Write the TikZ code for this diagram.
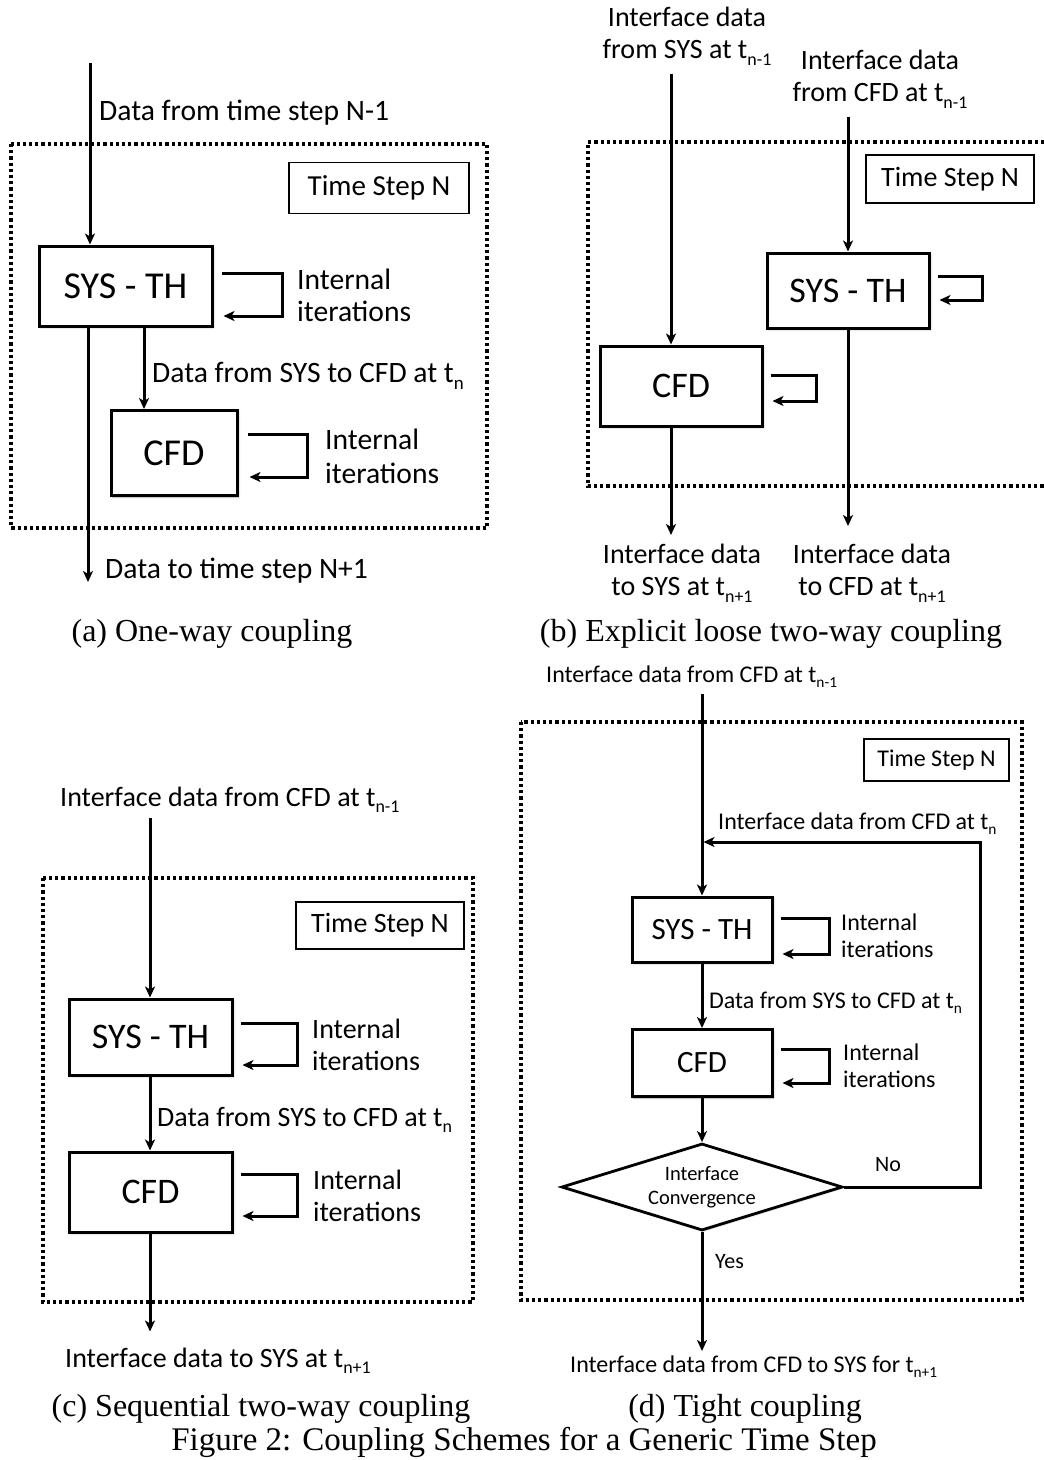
\documentclass[tikz,border=0pt]{standalone}
\usepackage{fontspec}
\setmainfont{Carlito}
\newfontfamily\capfont{Liberation Serif}
\usetikzlibrary{arrows.meta,shapes.geometric,shadows.blur}
\newcommand\fs[2]{\fontsize{#1}{#2}\selectfont}
% lowered, reduced index such as the n-1 in t_{n-1}
\newcommand\lowidx[1]{\raisebox{-0.24em}{\scalebox{0.64}{#1}}}

\begin{document}
\begin{tikzpicture}[x=1pt,y=-1pt,
  conn/.style={line width=3pt,-{Stealth[length=11pt,width=10pt,inset=3pt]}},
  block/.style={draw,line width=3pt,fill=white,inner sep=0pt,
    blur shadow={shadow xshift=1.5pt,shadow yshift=-1.5pt,shadow blur radius=2pt,shadow opacity=35}},
  tsbox/.style={draw,line width=1.5pt,inner sep=0pt},
  frame/.style={line width=3.2pt,dash pattern=on 3.2pt off 3pt},
  txt/.style={inner sep=0pt},
  captext/.style={font=\capfont\fs{32}{36},inner sep=0pt},
]
\useasboundingbox (0,0) rectangle (1044,1460);

% ---------------- (a) one-way coupling ----------------
\draw[frame] (11,144) rectangle (487,528);
\node[tsbox,minimum width=180pt,minimum height=51pt,font=\fs{29}{32}] (a-ts) at (379,188) {Time Step N};
\node[block,minimum width=173pt,minimum height=80pt,font=\fs{38}{40}] (a-sys) at (125.5,286) {SYS - TH};
\node[block,minimum width=126pt,minimum height=85pt,font=\fs{38}{40}] (a-cfd) at (174,453) {CFD};
\coordinate (a-in) at (90,63);
\coordinate (a-out) at (88,582);
\draw[conn] (a-in) -- (a-in |- a-sys.north);
\draw[conn] (a-out |- a-sys.south) -- (a-out);
\draw[conn] ([xshift=-30pt]a-cfd.north |- a-sys.south) -- ([xshift=-30pt]a-cfd.north);
\draw[conn] ([xshift=8pt,yshift=13pt]a-sys.east) -- ++(61,0) -- ++(0,43) -- ++(-59,0);
\draw[conn] ([xshift=9pt,yshift=19pt]a-cfd.east) -- ++(60,0) -- ++(0,43) -- ++(-58,0);
\node[txt,anchor=base west,font=\fs{29.6}{32}] (a-lblin) at (99,120) {Data from time step N-1};
\node[txt,anchor=base west,font=\fs{29.6}{32}] (a-lblmid) at (152,382) {Data from SYS to CFD at t\lowidx{n}};
\node[txt,anchor=base west,font=\fs{29.6}{32}] (a-lblout) at (105,578) {Data to time step N+1};
\node[txt,anchor=west,align=left,font=\fs{29.6}{32}] (a-itsys) at (297,295) {Internal\\iterations};
\node[txt,anchor=west,align=left,font=\fs{29.6}{34}] (a-itcfd) at (325,456) {Internal\\iterations};
\node[captext] (a-cap) at (212,634) {(a) One-way coupling};

% ---------------- (b) explicit loose two-way coupling ----------------
\draw[frame] (1044,142) -- (588,142) -- (588,486) -- (1044,486);
\node[tsbox,minimum width=168pt,minimum height=48pt,font=\fs{28}{30}] (b-ts) at (950,179) {Time Step N};
\node[block,minimum width=162pt,minimum height=75pt,font=\fs{36}{38}] (b-sys) at (848,290.5) {SYS - TH};
\node[block,minimum width=162pt,minimum height=80pt,font=\fs{36}{38}] (b-cfd) at (681,386) {CFD};
\node[txt,align=center,font=\fs{28}{32}] (b-lblsys) at (687,36) {Interface data\\from SYS at t\lowidx{n-1}};
\node[txt,align=center,font=\fs{28}{32}] (b-lblcfd) at (880,79) {Interface data\\from CFD at t\lowidx{n-1}};
\coordinate (b-in1) at (671,74);
\coordinate (b-in2) at (848,116.5);
\coordinate (b-out1) at (671,535);
\coordinate (b-out2) at (848,526);
\draw[conn] (b-in1) -- (b-in1 |- b-cfd.north);
\draw[conn] (b-in2) -- (b-sys.north);
\draw[conn] (b-out1 |- b-cfd.south) -- (b-out1);
\draw[conn] (b-sys.south) -- (b-out2);
\draw[conn] ([xshift=7pt,yshift=14.5pt]b-sys.east) -- ++(45,0) -- ++(0,24) -- ++(-43,0);
\draw[conn] ([xshift=7pt,yshift=11pt]b-cfd.east) -- ++(46,0) -- ++(0,26) -- ++(-44,0);
\node[txt,align=center,font=\fs{28}{32}] (b-lblout1) at (682,573) {Interface data\\to SYS at t\lowidx{n+1}};
\node[txt,align=center,font=\fs{28}{32}] (b-lblout2) at (872,573) {Interface data\\to CFD at t\lowidx{n+1}};
\node[captext] (b-cap) at (771,634) {(b) Explicit loose two-way coupling};

% ---------------- (c) sequential two-way coupling ----------------
\draw[frame] (43,878) rectangle (473,1302);
\node[tsbox,minimum width=168pt,minimum height=47pt,font=\fs{28}{30}] (c-ts) at (380,925.5) {Time Step N};
\node[block,minimum width=163pt,minimum height=76pt,font=\fs{36}{38}] (c-sys) at (150.5,1037) {SYS - TH};
\node[block,minimum width=163pt,minimum height=80pt,font=\fs{36}{38}] (c-cfd) at (150.5,1192) {CFD};
\coordinate (c-in) at (150,818);
\coordinate (c-out) at (150,1331.5);
\draw[conn] (c-in) -- (c-in |- c-sys.north);
\draw[conn] (c-in |- c-sys.south) -- (c-in |- c-cfd.north);
\draw[conn] (c-out |- c-cfd.south) -- (c-out);
\draw[conn] ([xshift=7pt,yshift=14pt]c-sys.east) -- ++(57,0) -- ++(0,42) -- ++(-55,0);
\draw[conn] ([xshift=7pt,yshift=18pt]c-cfd.east) -- ++(57,0) -- ++(0,42) -- ++(-55,0);
\node[txt,anchor=base west,font=\fs{28}{32}] (c-lblin) at (60,806) {Interface data from CFD at t\lowidx{n-1}};
\node[txt,anchor=base west,font=\fs{28}{32}] (c-lblmid) at (157,1126) {Data from SYS to CFD at t\lowidx{n}};
\node[txt,anchor=base west,font=\fs{28}{32}] (c-lblout) at (65,1367) {Interface data to SYS at t\lowidx{n+1}};
\node[txt,anchor=west,align=left,font=\fs{28}{32}] (c-itsys) at (312,1045) {Internal\\iterations};
\node[txt,anchor=west,align=left,font=\fs{28}{32}] (c-itcfd) at (313,1196) {Internal\\iterations};
\node[captext] (c-cap) at (261,1409) {(c) Sequential two-way coupling};

% ---------------- (d) tight coupling ----------------
\draw[frame] (521,722) rectangle (1022,1300);
\node[tsbox,minimum width=145pt,minimum height=42pt,font=\fs{24}{28}] (d-ts) at (936.5,760) {Time Step N};
\node[block,minimum width=140pt,minimum height=65pt,font=\fs{31}{34}] (d-sys) at (702,929.5) {SYS - TH};
\node[block,minimum width=140pt,minimum height=67pt,font=\fs{31}{34}] (d-cfd) at (702,1063) {CFD};
\node[diamond,draw,line width=2.8pt,fill=white,aspect=3.2,minimum width=281pt,minimum height=87pt,
      inner sep=0pt,align=center,font=\fs{20.5}{24},
      blur shadow={shadow xshift=1pt,shadow yshift=-1pt,shadow blur radius=1.5pt,shadow opacity=30}]
      (d-conv) at (702,1187) {Interface\\Convergence};
\coordinate (d-in) at (702,694);
\coordinate (d-out) at (702,1351);
\coordinate (d-ret) at (980,842);
\draw[conn] (d-in) -- (d-sys.north);
\draw[conn] (d-sys.south) -- (d-cfd.north);
\draw[conn] (d-cfd.south) -- (d-conv.north);
\draw[conn] (d-conv.south) -- (d-out);
\draw[conn] (d-conv.east) -| (d-ret) -- ([xshift=1.5pt]d-in |- d-ret);
\draw[conn] ([xshift=7pt,yshift=11.5pt]d-sys.east) -- ++(49,0) -- ++(0,36) -- ++(-47,0);
\draw[conn] ([xshift=7pt,yshift=14pt]d-cfd.east) -- ++(49,0) -- ++(0,34) -- ++(-47,0);
\node[txt,anchor=base west,font=\fs{24}{28}] (d-lblin) at (546,682) {Interface data from CFD at t\lowidx{n-1}};
\node[txt,anchor=base west,font=\fs{24}{28}] (d-lblret) at (718,829) {Interface data from CFD at t\lowidx{n}};
\node[txt,anchor=base west,font=\fs{24}{28}] (d-lblmid) at (709,1008) {Data from SYS to CFD at t\lowidx{n}};
\node[txt,anchor=base west,font=\fs{24}{28}] (d-lblout) at (570,1372) {Interface data from CFD to SYS for t\lowidx{n+1}};
\node[txt,anchor=west,align=left,font=\fs{24}{27}] (d-itsys) at (841,936) {Internal\\iterations};
\node[txt,anchor=west,align=left,font=\fs{24}{27}] (d-itcfd) at (843,1066) {Internal\\iterations};
\node[txt,font=\fs{22}{26}] (d-no) at (888,1165) {No};
\node[txt,anchor=west,font=\fs{22}{26}] (d-yes) at (715,1262) {Yes};
\node[captext] (d-cap) at (745,1409) {(d) Tight coupling};

\node[captext,font=\capfont\fs{33}{36}] (fig-cap) at (524,1442) {Figure 2: Coupling Schemes for a Generic Time Step};
\end{tikzpicture}
\end{document}
